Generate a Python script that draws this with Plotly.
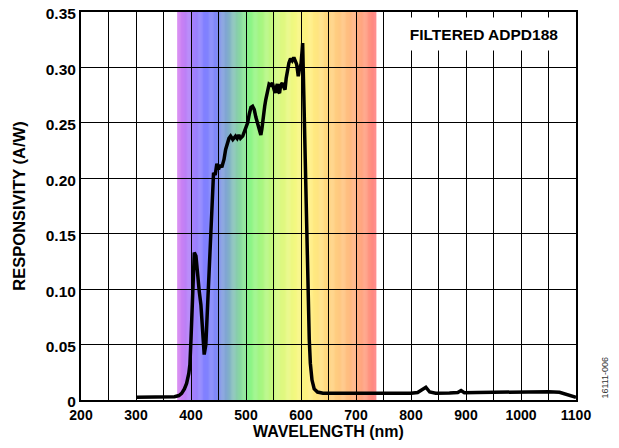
import plotly.graph_objects as go

# ---- data ----
wavelength_nm = [300, 320, 340, 360, 370, 378, 383, 388, 392, 396, 398, 400, 403, 406, 409, 412,
                 415, 418, 421, 424, 427, 430, 433, 436, 439, 441, 444, 447, 450, 453, 456, 460,
                 463, 466, 469, 472, 476, 481, 484, 487, 490, 494, 497, 500, 503, 506, 509, 512,
                 515, 518, 522, 525, 527, 529, 531, 534, 536, 539, 542, 545, 548, 551, 553, 555,
                 557, 559, 561, 563, 566, 568, 571, 573, 575, 578, 581, 584, 587, 590, 592, 594,
                 595, 597, 598, 600, 602, 603, 604, 605, 607, 609, 611, 613, 615, 617, 620, 624,
                 630, 640, 660, 700, 750, 800, 812, 820, 827, 834, 845, 870, 885, 891, 897, 920,
                 950, 1000, 1050, 1070, 1085, 1100]
responsivity = [0.0025, 0.0025, 0.0025, 0.0025, 0.003, 0.004, 0.006, 0.010, 0.015, 0.024, 0.032,
                0.055, 0.105, 0.133, 0.130, 0.112, 0.098, 0.086, 0.058, 0.041, 0.050, 0.085, 0.124,
                0.158, 0.185, 0.205, 0.203, 0.213, 0.208, 0.212, 0.210, 0.217, 0.226, 0.232, 0.236,
                0.238, 0.235, 0.238, 0.236, 0.239, 0.236, 0.238, 0.242, 0.245, 0.250, 0.258, 0.264,
                0.265, 0.262, 0.255, 0.247, 0.242, 0.239, 0.245, 0.256, 0.265, 0.271, 0.279, 0.285,
                0.284, 0.286, 0.280, 0.277, 0.282, 0.285, 0.278, 0.277, 0.284, 0.286, 0.283, 0.280,
                0.290, 0.298, 0.304, 0.308, 0.306, 0.309, 0.306, 0.303, 0.296, 0.292, 0.298, 0.300,
                0.303, 0.315, 0.322, 0.300, 0.275, 0.230, 0.180, 0.130, 0.085, 0.055, 0.033, 0.018,
                0.010, 0.0072, 0.0062, 0.006, 0.006, 0.006, 0.006, 0.0068, 0.009, 0.0115, 0.0072,
                0.0062, 0.0063, 0.0068, 0.0085, 0.0065, 0.0068, 0.007, 0.0072, 0.0075, 0.007, 0.005,
                0.0025]

x_tick_vals = [200, 250, 300, 350, 400, 450, 500, 550, 600, 650, 700, 750, 800, 850, 900, 950, 1000, 1050, 1100]
x_tick_text = ["200", "", "300", "", "400", "", "500", "", "600", "", "700", "", "800", "", "900", "", "1000", "", "1100"]
y_tick_vals = [0, 0.05, 0.10, 0.15, 0.20, 0.25, 0.30, 0.35]
y_tick_text = ["0", "0.05", "0.10", "0.15", "0.20", "0.25", "0.30", "0.35"]

# visible-spectrum background band (wavelength, colour stops)
band_nm = [375, 400, 425, 445, 465, 485, 505, 530, 560, 590, 615, 650, 685, 715, 737]
band_rgb = [(216, 128, 240), (170, 128, 250), (128, 128, 255), (128, 136, 248), (128, 168, 208),
            (136, 208, 168), (136, 244, 136), (170, 246, 128), (216, 248, 128), (244, 248, 128),
            (255, 240, 128), (255, 214, 128), (255, 190, 128), (255, 160, 128), (255, 128, 128)]


def band_colour(w):
    for i in range(len(band_nm) - 1):
        if band_nm[i] <= w <= band_nm[i + 1]:
            t = (w - band_nm[i]) / (band_nm[i + 1] - band_nm[i])
            c = [round(a + (b - a) * t) for a, b in zip(band_rgb[i], band_rgb[i + 1])]
            return "rgb(%d,%d,%d)" % tuple(c)
    return "rgb(%d,%d,%d)" % band_rgb[-1]


FONT = "Arial, Liberation Sans, sans-serif"

shapes = []
step = 2
w = band_nm[0]
while w < band_nm[-1]:
    w1 = min(w + step, band_nm[-1])
    shapes.append(dict(type="rect", xref="x", yref="paper", x0=w, x1=min(w1 + 0.6, band_nm[-1]),
                       y0=0, y1=1, fillcolor=band_colour(w + step / 2), line=dict(width=0),
                       layer="below"))
    w = w1

fig = go.Figure()
fig.add_trace(go.Scatter(x=wavelength_nm, y=responsivity, mode="lines",
                         line=dict(color="black", width=3.5), showlegend=False))

fig.update_layout(
    width=611, height=440,
    margin=dict(l=73, r=43, t=4, b=48, autoexpand=False),
    paper_bgcolor="white", plot_bgcolor="white",
    shapes=shapes,
    font=dict(family=FONT, color="black"),
    xaxis=dict(range=[200, 1100], tickvals=x_tick_vals, ticktext=["<b>%s</b>" % t if t else "" for t in x_tick_text],
               showgrid=True, gridcolor="black", gridwidth=1.3, automargin=False,
               showline=True, linecolor="black", linewidth=2, mirror=True,
               ticks="", zeroline=False, ticklabeloverflow="allow", ticklabelstandoff=1,
               tickfont=dict(family=FONT, size=14, color="black"),
               title=dict(text="<b>WAVELENGTH (nm)</b>", font=dict(family=FONT, size=16), standoff=3)),
    yaxis=dict(range=[0, 0.35], tickvals=y_tick_vals, ticktext=["<b>%s</b>" % t for t in y_tick_text],
               showgrid=True, gridcolor="black", gridwidth=1.3, automargin=False,
               showline=True, linecolor="black", linewidth=2, mirror=True,
               ticks="", zeroline=False, ticklabeloverflow="allow", ticklabelshift=2,
               tickfont=dict(family=FONT, size=15.5, color="black"),
               title=dict(text="<b>RESPONSIVITY (A/W)</b>", font=dict(family=FONT, size=16.5), standoff=16)),
    annotations=[
        dict(text="<b>FILTERED ADPD188</b>", xref="paper", yref="paper", x=0.996, y=0.987,
             xanchor="right", yanchor="top", showarrow=False, bgcolor="white",
             width=178, height=32, align="center", borderpad=0,
             font=dict(family=FONT, size=15.5, color="black")),
        dict(text="16111-006", xref="paper", yref="paper", x=1.058, y=0.057,
             xanchor="center", yanchor="middle", textangle=-90, showarrow=False,
             font=dict(family=FONT, size=9, color="#333333")),
    ],
)

fig.write_html("out.html")
